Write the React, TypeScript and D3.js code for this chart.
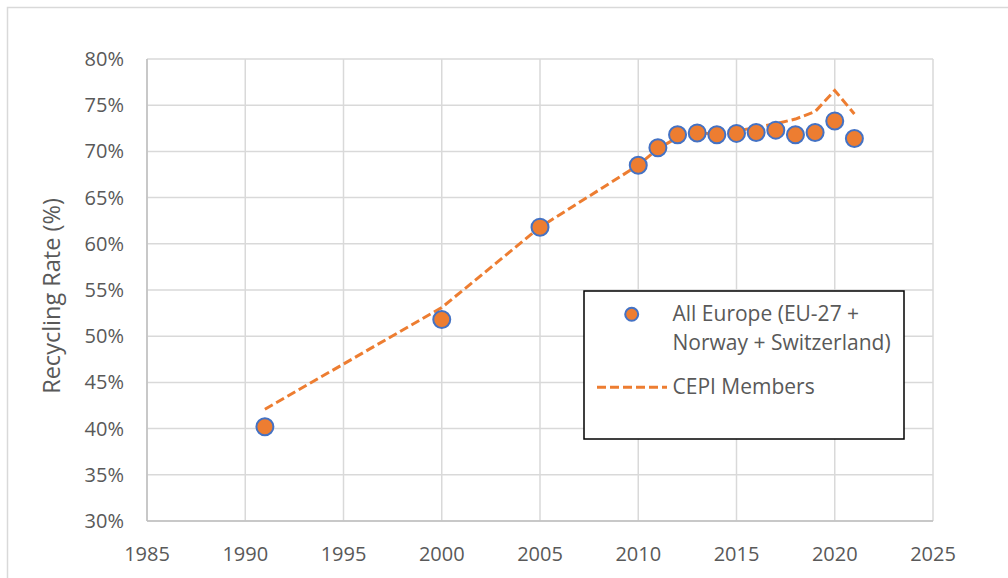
import React from "react";
import * as d3 from "d3";

const years = [1991, 2000, 2005, 2010, 2011, 2012, 2013, 2014, 2015, 2016, 2017, 2018, 2019, 2020, 2021];
const allEurope = [40.2, 51.8, 61.8, 68.5, 70.4, 71.8, 72.0, 71.8, 71.95, 72.05, 72.3, 71.8, 72.05, 73.3, 71.4];
const cepiYears = [1991, 2000, 2005, 2010, 2011, 2012, 2013, 2014, 2015, 2016, 2017, 2018, 2019, 2020, 2021];
const cepi = [42.1, 53.1, 61.8, 68.5, 70.3, 71.5, 71.9, 72.0, 72.2, 72.6, 73.0, 73.5, 74.3, 76.6, 74.05];
const xTicks = [1985, 1990, 1995, 2000, 2005, 2010, 2015, 2020, 2025];
const yTicks = [30, 35, 40, 45, 50, 55, 60, 65, 70, 75, 80];

const W = 1008, H = 578;
const L = 147, R = 933, T = 59, B = 521;
const FONT = "'Open Sans', sans-serif";
const TXT = "#595959";
const ORANGE = "#ED7D31";
const BLUE = "#4472C4";

export default function App() {
  const x = d3.scaleLinear().domain([1985, 2025]).range([L, R]);
  const y = d3.scaleLinear().domain([30, 80]).range([B, T]);
  const line = d3.line<number>().x((_, i) => x(cepiYears[i])).y((d) => y(d));

  return (
    <svg width={W} height={H} style={{ position: "absolute", left: 0, top: 0, background: "#fff" }}>
      <rect x={7.5} y={7.5} width={1100} height={700} fill="#fff" stroke="#d9d9d9" strokeWidth={1.5} />
      {yTicks.map((t) => (
        <line key={"gy" + t} x1={L} x2={R} y1={y(t)} y2={y(t)} stroke="#d9d9d9" strokeWidth={1.5} />
      ))}
      {xTicks.map((t) => (
        <line key={"gx" + t} x1={x(t)} x2={x(t)} y1={T} y2={B} stroke="#d9d9d9" strokeWidth={1.5} />
      ))}
      <line x1={L} x2={R} y1={B} y2={B} stroke="#bfbfbf" strokeWidth={1.5} />
      <line x1={L} x2={L} y1={T} y2={B} stroke="#bfbfbf" strokeWidth={1.5} />
      {yTicks.map((t) => (
        <text key={"ly" + t} x={124} y={y(t) + 7} textAnchor="end" fontFamily={FONT} fontSize={20} fill={TXT}>
          {t}%
        </text>
      ))}
      {xTicks.map((t) => (
        <text key={"lx" + t} x={x(t)} y={561} textAnchor="middle" fontFamily={FONT} fontSize={20} fill={TXT}>
          {t}
        </text>
      ))}
      <text
        transform={`translate(59.5,296) rotate(-90)`}
        textAnchor="middle"
        fontFamily={FONT}
        fontSize={23.5}
        fill={TXT}
      >
        Recycling Rate (%)
      </text>
      <path d={line(cepi) ?? ""} fill="none" stroke={ORANGE} strokeWidth={3} strokeDasharray="9,4" />
      {allEurope.map((v, i) => (
        <circle key={"p" + i} cx={x(years[i])} cy={y(v)} r={8.5} fill={ORANGE} stroke={BLUE} strokeWidth={2} />
      ))}
      <g>
        <rect x={584} y={291} width={320} height={148} fill="#fff" stroke="#000" strokeWidth={1.5} />
        <circle cx={631.7} cy={314.3} r={6.5} fill={ORANGE} stroke={BLUE} strokeWidth={2} />
        <text x={672.5} y={321} fontFamily={FONT} fontSize={21} fill={TXT}>All Europe (EU-27 +</text>
        <text x={672.5} y={350} fontFamily={FONT} fontSize={21} fill={TXT}>Norway + Switzerland)</text>
        <line x1={597} x2={667} y1={387.3} y2={387.3} stroke={ORANGE} strokeWidth={3} strokeDasharray="9,4" />
        <text x={672.5} y={394} fontFamily={FONT} fontSize={21} fill={TXT}>CEPI Members</text>
      </g>
    </svg>
  );
}
